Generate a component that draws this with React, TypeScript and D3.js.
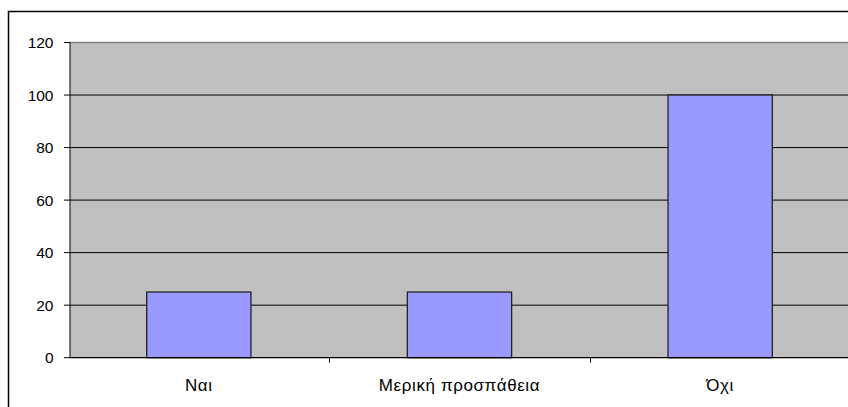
import React from "react";
import * as d3 from "d3";

const categories = ["Ναι", "Μερική προσπάθεια", "Όχι"];
const values = [25, 25, 100];
const yTicks = [0, 20, 40, 60, 80, 100, 120];

const W = 848;
const H = 407;
const plot = { left: 68.5, right: 850.5, top: 42.5, bottom: 357.7 };

export default function App() {
  const x = d3
    .scaleBand<string>()
    .domain(categories)
    .range([plot.left, plot.right])
    .paddingInner(0)
    .paddingOuter(0);
  const y = d3.scaleLinear().domain([0, 120]).range([plot.bottom, plot.top]);
  const barW = x.bandwidth() * 0.4;
  const font = "'Liberation Sans', Arial, sans-serif";

  return (
    <svg
      width={W}
      height={H}
      style={{ position: "absolute", left: 0, top: 0, background: "#fff" }}
      fontFamily={font}
    >
      {/* chart frame (continues past the right and bottom edges) */}
      <path d={`M8.5,${H}V11.5H${W}`} fill="none" stroke="#000" strokeWidth={1.5} />
      {/* plot area */}
      <rect x={70} y={plot.top} width={W - 70} height={plot.bottom - plot.top} fill="#C0C0C0" />
      <line x1={70} x2={W} y1={plot.top} y2={plot.top} stroke="#808080" strokeWidth={1.3} />
      {/* gridlines */}
      {yTicks.slice(1, -1).map((t) => (
        <line key={t} x1={70} x2={W} y1={y(t)} y2={y(t)} stroke="#000" strokeWidth={1} />
      ))}
      {/* bars */}
      {categories.map((c, i) => {
        const cx = (x(c) as number) + x.bandwidth() / 2;
        return (
          <rect
            key={c}
            x={cx - barW / 2}
            y={y(values[i])}
            width={barW}
            height={y(0) - y(values[i])}
            fill="#9999FF"
            stroke="#222"
            strokeWidth={1.3}
          />
        );
      })}
      {/* y axis */}
      <line x1={70} x2={70} y1={plot.top} y2={plot.bottom} stroke="#000" strokeWidth={1} />
      {yTicks.map((t) => (
        <g key={t}>
          <line x1={64} x2={70} y1={y(t)} y2={y(t)} stroke="#000" strokeWidth={1} />
          <text x={53.5} y={y(t)} dy="0.36em" textAnchor="end" fontSize={15.5} fill="#000">
            {t}
          </text>
        </g>
      ))}
      {/* x axis */}
      <line x1={70} x2={W} y1={plot.bottom} y2={plot.bottom} stroke="#000" strokeWidth={1.3} />
      {categories.slice(1).map((c) => (
        <line
          key={c}
          x1={Math.round(x(c) as number) + 0.5}
          x2={Math.round(x(c) as number) + 0.5}
          y1={plot.bottom}
          y2={plot.bottom + 5}
          stroke="#000"
          strokeWidth={1}
        />
      ))}
      {categories.map((c) => (
        <text
          key={c}
          x={(x(c) as number) + x.bandwidth() / 2}
          y={390.5}
          textAnchor="middle"
          fontSize={17}
          letterSpacing={0.6}
          fill="#000"
        >
          {c}
        </text>
      ))}
    </svg>
  );
}
